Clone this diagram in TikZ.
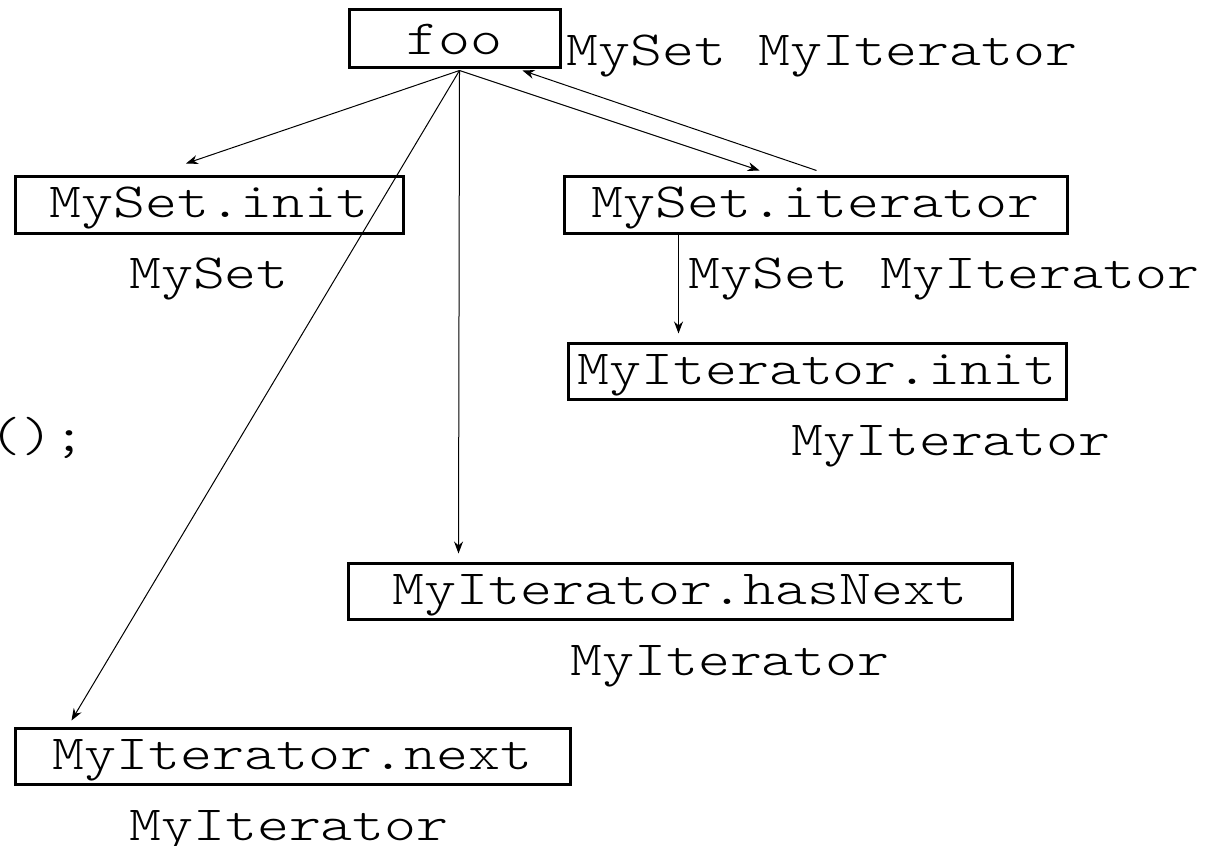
\documentclass[tikz,border=0pt]{standalone}
\usepackage{fontspec}
\setmonofont{lmmonolt10-regular.otf}[FakeStretch=1.24]
\usetikzlibrary{arrows.meta,calc}
\begin{document}
\begin{tikzpicture}[x=0.5pt,y=-0.5pt,
  font=\fontsize{24.55pt}{28pt}\selectfont\ttfamily,
  box/.style={draw, line width=1.5pt, inner sep=0pt, text height=20.5pt, text depth=7.5pt},
  lbl/.style={inner sep=0pt},
  arr/.style={line width=0.5pt, -{Stealth[length=6pt,width=4.5pt]}}]
\useasboundingbox (0,0) rectangle (1213,845);
% boxes
\node[box, minimum width=105.5pt, text height=22.5pt, text depth=6.5pt] (foo) at (454.5,39) {foo};
\node[box, minimum width=194pt] (init) at (209,205) {MySet.init};
\node[box, minimum width=251.5pt] (iter) at (815.5,205) {MySet.iterator};
\node[box, minimum width=249pt] (iinit) at (817,371) {MyIterator.init};
\node[box, minimum width=332pt] (hasnext) at (680,591) {MyIterator.hasNext};
\node[box, minimum width=277.5pt] (next) at (292.5,756) {MyIterator.next};
% labels
\node[lbl, anchor=base west] (l0) at (566,66) {MySet MyIterator};
\node[lbl, anchor=base] (l1) at (209,288) {MySet};
\node[lbl, anchor=base west] (l2) at (688,288) {MySet MyIterator};
\node[lbl, anchor=base] (l3) at (951,455) {MyIterator};
\node[lbl, anchor=base] (l4) at (730,675) {MyIterator};
\node[lbl, anchor=base] (l5) at (289,840) {MyIterator};
\node[lbl, anchor=base east] (l6) at (86,451) {();};
% connectors
\coordinate (fo) at ($(foo.south)+(5,1)$);
\draw[arr] (fo) -- ($(init.north)+(-23,-12)$);
\draw[arr] (fo) -- ($(next.north west)+(58,-6)$);
\draw[arr] (fo) -- ($(hasnext.north west)+(112,-8)$);
\draw[arr] (fo) -- ($(iter.north west)+(197,-5)$);
\draw[arr] ($(iter.north west)+(254,-5)$) -- ($(foo.south east)+(-39,1)$);
\draw[arr] ($(iter.south west)+(116,0)$) -- ($(iinit.north west)+(112,-8)$);
\end{tikzpicture}
\end{document}
